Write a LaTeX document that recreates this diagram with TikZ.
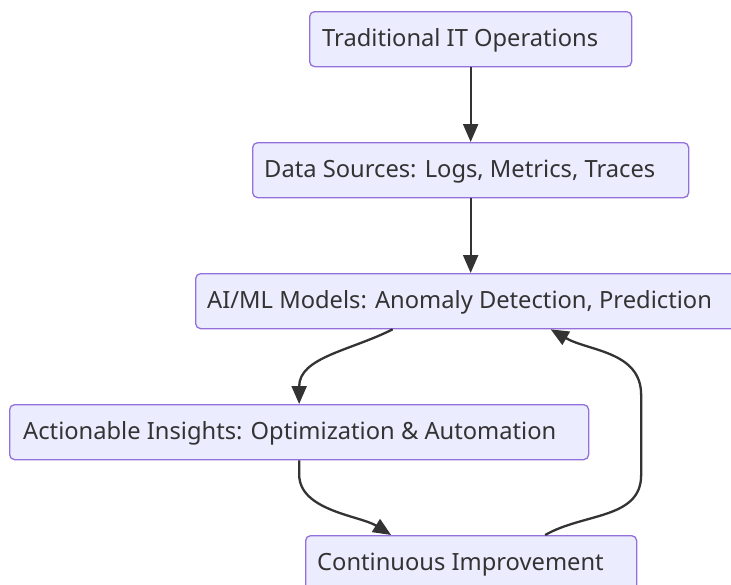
\documentclass[tikz,border=0pt]{standalone}
\usepackage{fontspec}
\setmainfont{Noto Sans}
\usetikzlibrary{arrows.meta}
\definecolor{boxfill}{HTML}{ECECFF}
\definecolor{boxline}{HTML}{9370DB}
\definecolor{ink}{HTML}{333333}
\tikzset{
  stepbox/.style={draw=boxline, fill=boxfill, line width=1.3pt, rounded corners=5pt,
    minimum height=55pt, inner sep=0pt, anchor=north west},
  label/.style={anchor=west, text=ink, font=\fontsize{23.7}{28}\selectfont, inner sep=0pt},
  flow/.style={draw=ink, line width=2.3pt, -{Triangle[length=18pt,width=15pt]}}
}
\begin{document}
\begin{tikzpicture}[x=1pt,y=-1pt]
\useasboundingbox (0,0) rectangle (731,584);
% boxes
\node[stepbox, minimum width=322pt] (b1) at (309,11) {};
\node[stepbox, minimum width=436pt] (b2) at (252,142) {};
\node[stepbox, minimum width=550pt] (b3) at (195,273) {};
\node[stepbox, minimum width=579pt] (b4) at (9,404) {};
\node[stepbox, minimum width=331pt] (b5) at (305,535) {};
% labels
\node[label] (t1) at ([xshift=13pt,yshift=-1pt]b1.west) {Traditional IT Operations};
\node[label] (t2) at ([xshift=12pt,yshift=-1pt]b2.west) {Data Sources: Logs, Metrics, Traces};
\node[label] (t3) at ([xshift=12pt,yshift=-1pt]b3.west) {AI/ML Models: Anomaly Detection, Prediction};
\node[label] (t4) at ([xshift=14pt,yshift=-1pt]b4.west) {Actionable Insights: Optimization \& Automation};
\node[label] (t5) at ([xshift=12pt,yshift=-1pt]b5.west) {Continuous Improvement};
% connectors (shifts are in page points: positive yshift is upward)
\draw[flow] (b1.south) -- (b2.north);
\draw[flow] (b2.south) -- (b3.north);
\draw[flow] ([xshift=-78pt]b3.south) to[out=-153,in=90] (b4.north);
\draw[flow] (b4.south) -- ([yshift=-14pt]b4.south) to[out=-90,in=148,looseness=0.85] ([xshift=-80pt]b5.north);
\draw[flow] ([xshift=74pt]b5.north) to[out=30,in=-90] ([xshift=170pt,yshift=60pt]b5.north)
  -- ([xshift=170pt,yshift=140pt]b5.north) to[out=90,in=-30] ([xshift=80pt]b3.south);
\end{tikzpicture}
\end{document}
